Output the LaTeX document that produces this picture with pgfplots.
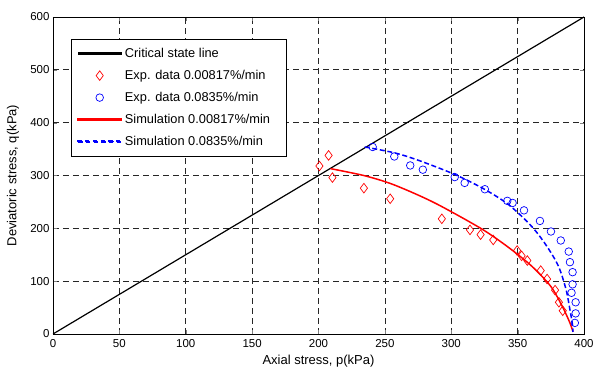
\documentclass[border=0pt]{standalone}
\usepackage{pgfplots}
\pgfplotsset{compat=1.18}
\usepackage{fontspec}
\setmainfont{Liberation Sans}
\begin{document}
\begin{tikzpicture}
\begin{axis}[
  name=ax,
  scale only axis,
  width=531pt, height=317pt,
  xmin=0, xmax=400, ymin=0, ymax=600,
  xtick={0,50,...,400}, ytick={0,100,...,600},
  tick align=inside,
  major tick length=4pt,
  xtick pos=both, ytick pos=both,
  grid=major,
  major grid style={black!85, dash pattern=on 6pt off 4pt, line width=0.7pt},
  axis line style={black, line width=0.7pt},
  /pgf/number format/assume math mode=true,
  tick label style={font=\fontsize{11.5}{13}\selectfont},
  xticklabel style={yshift=-1.5pt},
  label style={font=\fontsize{13}{15}\selectfont},
  xlabel={Axial stress, p(kPa)},
  ylabel={Deviatoric stress, q(kPa)},
  xlabel style={at={([yshift=-27.5pt]axis description cs:0.5,0)}, anchor=center},
  ylabel style={at={([xshift=-40pt]axis description cs:0,0.5)}, anchor=center},
  legend style={at={(0.034,0.931)}, anchor=north west, line width=0.8pt,
    nodes={anchor=west, font=\fontsize{12.8}{15}\selectfont, line width=0.4pt},
    inner xsep=6pt, inner ysep=7pt, row sep=7.2pt, column sep=1pt},
]
\addplot[black, line width=1.2pt,
  legend image code/.code={\fill[black] (0pt,-0.6pt) rectangle (43pt,0.6pt);}]
  coordinates {(0,0) (400,600)};
\addlegendentry{Critical state line}
\addplot[only marks, red, mark=diamond, mark size=4.8pt, mark options={line width=0.7pt},
  legend image code/.code={\draw[red, line width=0.7pt] (21.5pt,4.8pt) -- (25.1pt,0pt) -- (21.5pt,-4.8pt) -- (17.9pt,0pt) -- cycle;}]
  coordinates {
(200.7,318) (207.6,338) (210.5,296) (234.2,276) (254.0,256) (292.9,218)
(314.1,197) (322.1,188) (331.6,178) (349.6,158) (353.0,148) (357.3,139)
(367.4,120) (372.2,104) (378.2,83) (381.1,60) (384.0,44)};
\addlegendentry{Exp. data 0.00817\%/min}
\addplot[only marks, blue, mark=o, mark size=3.8pt, mark options={line width=0.7pt},
  legend image code/.code={\draw[blue, line width=0.7pt] (21.5pt,0pt) circle (3.8pt);}]
  coordinates {
(240.8,354) (257.1,336) (269.1,319) (278.6,311) (302.6,297) (310.1,286)
(325.3,274) (342.2,252) (346.2,248) (354.8,234) (366.8,214) (375.1,194)
(382.5,177) (388.5,156) (389.4,136) (391.4,117) (391.4,94) (390.6,78)
(393.7,60) (393.7,39) (393.1,21)};
\addlegendentry{Exp. data 0.0835\%/min}
\addplot[red, line width=1.5pt, smooth,
  legend image code/.code={\fill[red] (0pt,-0.75pt) rectangle (43pt,0.75pt);}]
  coordinates {
(209,313) (234,300) (254,285) (275,263) (293,241) (323.5,198) (343.6,163)
(360.8,128) (375,90) (383.7,52) (389.4,21) (391.7,4)};
\addlegendentry{Simulation 0.00817\%/min\hspace*{8pt}}
\addplot[blue, line width=1.5pt, dash pattern=on 5pt off 2.7pt, smooth,
  legend image code/.code={\foreach \s in {0,7.7,15.4,23.1,30.8,38.5}{\fill[blue] (\s pt,-0.75pt) rectangle ++(4.5pt,1.5pt);}}]
  coordinates {
(234.8,354) (257,343) (275,329) (302.6,302) (325,274) (343.6,244) (360.8,203)
(372,166) (380.8,128) (386.5,84) (389.4,46) (391.2,20) (391.7,4)};
\addlegendentry{Simulation 0.0835\%/min}
\end{axis}
\pgfresetboundingbox
\path ([shift={(-53pt,-38pt)}]ax.south west) rectangle ([shift={(12pt,17pt)}]ax.north east);
\end{tikzpicture}
\end{document}
